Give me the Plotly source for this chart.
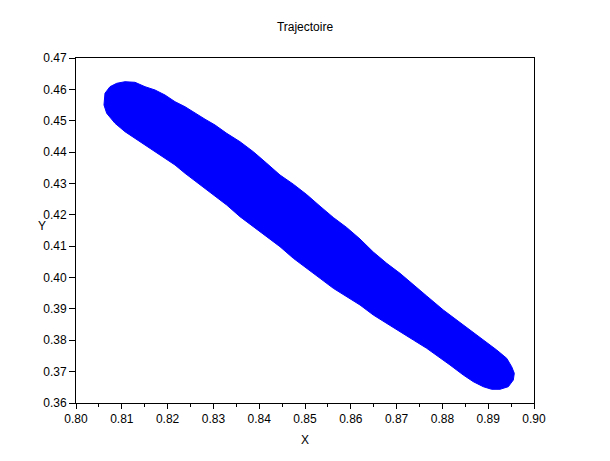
import plotly.graph_objects as go

# Outline of the filled trajectory band (data units)
outline_x = [0.80611, 0.80633, 0.80742, 0.80889, 0.81070, 0.81288, 0.81507, 0.81725,
             0.81943, 0.82162, 0.82380, 0.82598, 0.82817, 0.83035, 0.83290, 0.83581,
             0.83871, 0.84164, 0.84454, 0.84745, 0.85037, 0.85328, 0.85618, 0.85910,
             0.86201, 0.86491, 0.86784, 0.87074, 0.87365, 0.87657, 0.88020, 0.88312,
             0.88603, 0.88893, 0.89186, 0.89404, 0.89513, 0.89570, 0.89548, 0.89439,
             0.89258, 0.89076, 0.88893, 0.88675, 0.88456, 0.88166, 0.87948, 0.87657,
             0.87365, 0.87074, 0.86784, 0.86491, 0.86201, 0.85910, 0.85618, 0.85328,
             0.85037, 0.84745, 0.84454, 0.84164, 0.83871, 0.83581, 0.83290, 0.82998,
             0.82707, 0.82380, 0.82162, 0.81943, 0.81725, 0.81507, 0.81288, 0.81070,
             0.80852, 0.80670, 0.80611]
outline_y = [0.45501, 0.45875, 0.46085, 0.46193, 0.46244, 0.46225, 0.46085, 0.45980,
             0.45820, 0.45607, 0.45447, 0.45237, 0.45049, 0.44864, 0.44599, 0.44331,
             0.44012, 0.43643, 0.43270, 0.42976, 0.42645, 0.42275, 0.41915, 0.41596,
             0.41229, 0.40814, 0.40454, 0.40135, 0.39762, 0.39412, 0.38965, 0.38647,
             0.38328, 0.38009, 0.37690, 0.37425, 0.37157, 0.36947, 0.36733, 0.36520,
             0.36437, 0.36437, 0.36520, 0.36679, 0.36893, 0.37212, 0.37451, 0.37744,
             0.38009, 0.38273, 0.38541, 0.38806, 0.39125, 0.39389, 0.39657, 0.39976,
             0.40304, 0.40614, 0.40984, 0.41302, 0.41621, 0.41940, 0.42313, 0.42632,
             0.42951, 0.43324, 0.43588, 0.43802, 0.44012, 0.44226, 0.44440, 0.44650,
             0.44918, 0.45237, 0.45501]

x_ticks = [0.80, 0.81, 0.82, 0.83, 0.84, 0.85, 0.86, 0.87, 0.88, 0.89, 0.90]
x_tick_labels = ["0.80", "0.81", "0.82", "0.83", "0.84", "0.85", "0.86", "0.87", "0.88", "0.89", "0.90"]
y_ticks = [0.36, 0.37, 0.38, 0.39, 0.40, 0.41, 0.42, 0.43, 0.44, 0.45, 0.46, 0.47]
y_tick_labels = ["0.36", "0.37", "0.38", "0.39", "0.40", "0.41", "0.42", "0.43", "0.44", "0.45", "0.46", "0.47"]

title_text = "Trajectoire"
x_label = "X"
y_label = "Y"

font = dict(family="Liberation Sans, Arial, sans-serif", size=12, color="black")

fig = go.Figure()
fig.add_trace(go.Scatter(
    x=outline_x, y=outline_y, mode="lines", fill="toself",
    fillcolor="#0000FF", line=dict(color="#0000FF", width=1),
    hoverinfo="skip", showlegend=False,
))

# page body has an 8px margin, so margins are shifted to align the plot box
fig.update_layout(
    width=610, height=461,
    margin=dict(l=68, r=84, t=50, b=66),
    paper_bgcolor="white", plot_bgcolor="white",
    font=font,
    title=dict(text=title_text, x=(305 - 8) / 610, xanchor="center", y=1 - 19 / 461, yanchor="middle",
               font=dict(family=font["family"], size=12, color="black")),
    showlegend=False,
)

fig.update_xaxes(
    range=[0.80, 0.90], tickmode="array", tickvals=x_ticks, ticktext=x_tick_labels,
    ticks="outside", ticklen=5, tickwidth=1, tickcolor="black",
    showline=True, linecolor="black", linewidth=1, mirror=True,
    showgrid=False, zeroline=False,
    minor=dict(dtick=0.005, tick0=0.80, ticks="outside", ticklen=3, tickcolor="black", showgrid=False),
    tickfont=font,
)
fig.update_yaxes(
    range=[0.36, 0.47], tickmode="array", tickvals=y_ticks, ticktext=y_tick_labels,
    ticks="outside", ticklen=6, tickwidth=1, tickcolor="black",
    showline=True, linecolor="black", linewidth=1, mirror=True,
    showgrid=False, zeroline=False,
    tickfont=font,
)

fig.add_annotation(text=x_label, xref="paper", yref="paper", x=0.5, y=-(440 - 403) / 345,
                   xanchor="center", yanchor="middle", showarrow=False, font=font)
fig.add_annotation(text=y_label, xref="paper", yref="paper", x=-(76 - 42) / 458, y=(403 - 226) / 345,
                   xanchor="center", yanchor="middle", showarrow=False, font=font)

fig.write_html("out.html")
